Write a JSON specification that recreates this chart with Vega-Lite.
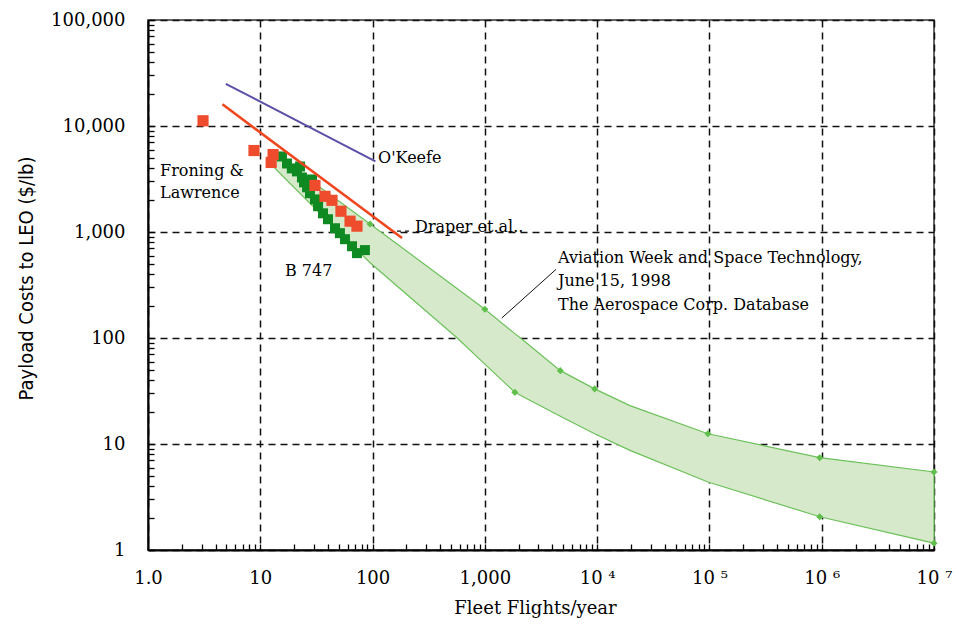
{
  "$schema": "https://vega.github.io/schema/vega-lite/v6.json",
  "width": 786,
  "height": 530,
  "autosize": {"type": "none"},
  "padding": {"left": 148, "top": 20, "right": 23, "bottom": 76},
  "background": "white",
  "config": {"view": {"stroke": "#333", "strokeWidth": 1.5}},
  "datasets": {
    "band": [
      {"x": 13.5, "y": 5500, "lower": 4000},
      {"x": 34, "y": 2640, "lower": 1500},
      {"x": 95, "y": 1190, "lower": 513},
      {"x": 561, "y": 295, "lower": 101},
      {"x": 1000, "y": 187, "lower": 56.7},
      {"x": 1850, "y": 110, "lower": 30.7},
      {"x": 2130, "y": 97.7, "lower": 28.4},
      {"x": 4700, "y": 49.2, "lower": 18.3},
      {"x": 9500, "y": 33.1, "lower": 12.5},
      {"x": 19600, "y": 23, "lower": 8.7},
      {"x": 97000, "y": 12.5, "lower": 4.38},
      {"x": 960000, "y": 7.43, "lower": 2.06},
      {"x": 10000000, "y": 5.44, "lower": 1.16}
    ],
    "bandPts": [
      {"x": 95, "y": 1190},
      {"x": 1000, "y": 187},
      {"x": 4700, "y": 49.2},
      {"x": 9500, "y": 33.1},
      {"x": 97000, "y": 12.5},
      {"x": 960000, "y": 7.43},
      {"x": 10000000, "y": 5.44},
      {"x": 1850, "y": 30.7},
      {"x": 960000, "y": 2.06},
      {"x": 10000000, "y": 1.16}
    ],
    "b747": [
      {"x": 15.6, "y": 5160},
      {"x": 17.3, "y": 4430},
      {"x": 19.1, "y": 3980},
      {"x": 21.2, "y": 3730},
      {"x": 22.6, "y": 4150},
      {"x": 23.5, "y": 3270},
      {"x": 24.5, "y": 2940},
      {"x": 26.1, "y": 2640},
      {"x": 27.7, "y": 2320},
      {"x": 28.9, "y": 3130},
      {"x": 30.7, "y": 2030},
      {"x": 32.7, "y": 1750},
      {"x": 36.2, "y": 1500},
      {"x": 40.1, "y": 1320},
      {"x": 46.3, "y": 1085},
      {"x": 51.2, "y": 975},
      {"x": 56.8, "y": 855},
      {"x": 65.6, "y": 734},
      {"x": 72.6, "y": 632},
      {"x": 85.5, "y": 675}
    ],
    "froning": [
      {"x": 3.09, "y": 11200},
      {"x": 8.79, "y": 5870},
      {"x": 13.0, "y": 5380},
      {"x": 12.5, "y": 4530},
      {"x": 30.7, "y": 2750},
      {"x": 37.7, "y": 2170},
      {"x": 43.5, "y": 1990},
      {"x": 52.3, "y": 1570},
      {"x": 63, "y": 1265},
      {"x": 72.6, "y": 1135}
    ],
    "draper": [
      {"x": 4.6, "y": 16000},
      {"x": 183, "y": 880}
    ],
    "okeefe": [
      {"x": 4.93, "y": 25000},
      {"x": 106, "y": 4630}
    ],
    "leader": [
      {"x": 1412, "y": 154},
      {"x": 4300, "y": 444}
    ],
    "draperDash": [
      {"x": 165, "y": 1020},
      {"x": 220, "y": 1020}
    ],
    "labels": [
      {"x": 112, "y": 4990, "text": "O'Keefe"},
      {"x": 1.28, "y": 3760, "text": "Froning &"},
      {"x": 1.28, "y": 2330, "text": "Lawrence"},
      {"x": 239, "y": 1115, "text": "Draper et.al.."},
      {"x": 16.6, "y": 429, "text": "B 747"},
      {"x": 4480, "y": 569, "text": "Aviation Week and Space Technology,"},
      {"x": 4480, "y": 345, "text": "June 15, 1998"},
      {"x": 4480, "y": 205, "text": "The Aerospace Corp. Database"}
    ]
  },
  "encoding": {
    "x": {
      "field": "x",
      "type": "quantitative",
      "scale": {"type": "log", "domain": [1, 10000000], "nice": false},
      "axis": {
        "values": [1,2,3,4,5,6,7,8,9,10,20,30,40,50,60,70,80,90,100,200,300,400,500,600,700,800,900,1000,2000,3000,4000,5000,6000,7000,8000,9000,10000,20000,30000,40000,50000,60000,70000,80000,90000,100000,200000,300000,400000,500000,600000,700000,800000,900000,1000000,2000000,3000000,4000000,5000000,6000000,7000000,8000000,9000000,10000000],
        "labelExpr": "datum.value==1?'1.0':datum.value==10?'10':datum.value==100?'100':datum.value==1000?'1,000':datum.value==10000?'10 ⁴':datum.value==100000?'10 ⁵':datum.value==1000000?'10 ⁶':datum.value==10000000?'10 ⁷':''",
        "labelFont": "DejaVu Serif",
        "labelFontSize": 18,
        "labelColor": "black",
        "labelPadding": 25,
        "labelOverlap": false,
        "labelFlush": false,
        "ticks": true,
        "tickSize": -6,
        "tickColor": "black",
        "tickWidth": 1.3,
        "tickOpacity": 1,
        "grid": true,
        "gridColor": "#111",
        "gridWidth": 1.5,
        "gridDash": [7, 5],
        "gridOpacity": {"condition": {"test": "indexof([1,10,100,1000,10000,100000,1000000,10000000], datum.value) >= 0", "value": 1}, "value": 0},
        "domainColor": "black",
        "domainWidth": 2,
        "title": "Fleet Flights/year",
        "titleFont": "DejaVu Serif",
        "titleFontSize": 18,
        "titleFontWeight": "normal",
        "titleColor": "black",
        "titleX": 387,
        "titleY": 58,
        "titleBaseline": "middle",
        "titleAlign": "center"
      }
    },
    "y": {
      "field": "y",
      "type": "quantitative",
      "scale": {"type": "log", "domain": [1, 100000], "nice": false},
      "axis": {
        "values": [1,2,3,4,5,6,7,8,9,10,20,30,40,50,60,70,80,90,100,200,300,400,500,600,700,800,900,1000,2000,3000,4000,5000,6000,7000,8000,9000,10000,20000,30000,40000,50000,60000,70000,80000,90000,100000],
        "labelExpr": "indexof([1,10,100,1000,10000,100000], datum.value) >= 0 ? format(datum.value, ',') : ''",
        "labelFont": "DejaVu Serif",
        "labelFontSize": 18,
        "labelColor": "black",
        "labelPadding": 29,
        "labelOverlap": false,
        "labelFlush": false,
        "ticks": true,
        "tickSize": -6,
        "tickColor": "black",
        "tickWidth": 1.3,
        "tickOpacity": 1,
        "grid": true,
        "gridColor": "#111",
        "gridWidth": 1.5,
        "gridDash": [7, 5],
        "gridOpacity": {"condition": {"test": "indexof([1,10,100,1000,10000,100000], datum.value) >= 0", "value": 1}, "value": 0},
        "domainColor": "black",
        "domainWidth": 2,
        "title": "Payload Costs to LEO ($/lb)",
        "titleFont": "DejaVu Sans Condensed, Liberation Sans Narrow, sans-serif",
        "titleFontSize": 20,
        "titleFontWeight": "normal",
        "titleColor": "black",
        "titleX": -122,
        "titleY": 258,
        "titleBaseline": "middle",
        "titleAlign": "center"
      }
    }
  },
  "layer": [
    {
      "data": {"name": "band"},
      "mark": {"type": "area", "fill": "#d6eacb", "stroke": "#6cc05a", "strokeWidth": 1.2, "opacity": 1},
      "encoding": {"y2": {"field": "lower"}}
    },
    {
      "data": {"name": "bandPts"},
      "mark": {"type": "point", "shape": "diamond", "filled": true, "size": 50, "color": "#5fbf4a", "opacity": 1}
    },
    {
      "data": {"name": "b747"},
      "mark": {"type": "point", "shape": "square", "filled": true, "size": 100, "color": "#0f8a22", "opacity": 1}
    },
    {
      "data": {"name": "froning"},
      "mark": {"type": "point", "shape": "square", "filled": true, "size": 125, "color": "#ee4c2c", "opacity": 1}
    },
    {
      "data": {"name": "draper"},
      "mark": {"type": "line", "color": "#f0461e", "strokeWidth": 2.5},
      "encoding": {}
    },
    {
      "data": {"name": "okeefe"},
      "mark": {"type": "line", "color": "#5b50a8", "strokeWidth": 2},
      "encoding": {}
    },
    {
      "data": {"name": "leader"},
      "mark": {"type": "line", "color": "#111", "strokeWidth": 1},
      "encoding": {}
    },
    {
      "data": {"name": "draperDash"},
      "mark": {"type": "line", "color": "#111", "strokeWidth": 1.2, "strokeDash": [4, 4]},
      "encoding": {}
    },
    {
      "data": {"name": "labels"},
      "mark": {"type": "text", "align": "left", "baseline": "middle", "font": "DejaVu Serif", "fontSize": 16, "color": "black"},
      "encoding": {"text": {"field": "text"}}
    }
  ]
}
